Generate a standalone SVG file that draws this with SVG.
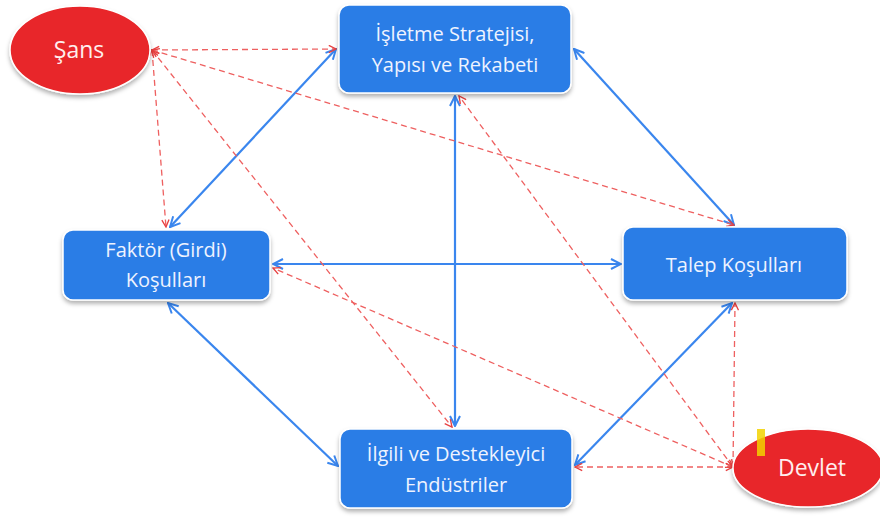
<svg xmlns="http://www.w3.org/2000/svg" width="880" height="518" viewBox="0 0 880 518">
<defs>
<style>
.box{fill:#2a7de6;stroke:#ffffff;stroke-width:1.5}
.oval{fill:#e8282a;stroke:#ffffff;stroke-width:1.5}
.lbl{font-family:"Open Sans","Liberation Sans",sans-serif;font-size:20px;fill:#eef3ff;text-anchor:middle}
.olbl{font-family:"Open Sans","Liberation Sans",sans-serif;font-size:23px;fill:#ffeeee;text-anchor:middle}
.blue{stroke:#3a86ee;stroke-width:2.2;fill:none;marker-start:url(#ab);marker-end:url(#ab)}
.red{stroke:#ee6060;stroke-width:1.3;stroke-dasharray:6 4;fill:none;marker-start:url(#ar);marker-end:url(#ar)}
</style>
<filter id="sh" x="-10%" y="-10%" width="120%" height="130%">
<feDropShadow dx="0" dy="3" stdDeviation="2" flood-color="#000" flood-opacity="0.3"/>
</filter>
<marker id="ab" viewBox="0 0 12 12" refX="11" refY="6" markerWidth="12" markerHeight="12" markerUnits="userSpaceOnUse" orient="auto-start-reverse">
<path d="M1 1 L11 6 L1 11" fill="none" stroke="#3a86ee" stroke-width="2"/>
</marker>
<marker id="ar" viewBox="0 0 10 10" refX="9" refY="5" markerWidth="9" markerHeight="9" markerUnits="userSpaceOnUse" orient="auto-start-reverse">
<path d="M1 1 L9 5 L1 9" fill="none" stroke="#e84040" stroke-width="1.5"/>
</marker>
</defs>
<rect width="880" height="518" fill="#ffffff"/>
<g id="connectors">
<line class="blue" x1="170" y1="227" x2="336" y2="49"/>
<line class="blue" x1="574" y1="49" x2="734" y2="225"/>
<line class="blue" x1="273" y1="264" x2="621" y2="264"/>
<line class="blue" x1="455" y1="96" x2="455" y2="426"/>
<line class="blue" x1="168" y1="303" x2="338" y2="466"/>
<line class="blue" x1="732" y1="303" x2="575" y2="465"/>
<line class="red" x1="152" y1="50" x2="336" y2="49"/>
<line class="red" x1="152" y1="50" x2="166" y2="227"/>
<line class="red" x1="152" y1="50" x2="452" y2="427"/>
<line class="red" x1="152" y1="50" x2="734" y2="225"/>
<line class="red" x1="733" y1="467" x2="575" y2="467"/>
<line class="red" x1="733" y1="467" x2="735" y2="303"/>
<line class="red" x1="733" y1="467" x2="459" y2="96"/>
<line class="red" x1="733" y1="467" x2="273" y2="268"/>
</g>
<g id="sans">
<ellipse class="oval" cx="80" cy="50" rx="70" ry="44" filter="url(#sh)"/>
<text class="olbl" x="79" y="58">Şans</text>
</g>
<g id="isletme">
<rect class="box" x="339" y="5" width="232" height="88" rx="10" filter="url(#sh)"/>
<text class="lbl" x="455" y="41">İşletme Stratejisi,</text>
<text class="lbl" x="455" y="72">Yapısı ve Rekabeti</text>
</g>
<g id="faktor">
<rect class="box" x="63" y="230" width="207" height="70" rx="10" filter="url(#sh)"/>
<text class="lbl" x="166" y="257">Faktör (Girdi)</text>
<text class="lbl" x="166" y="287">Koşulları</text>
</g>
<g id="talep">
<rect class="box" x="623" y="227" width="224" height="73" rx="10" filter="url(#sh)"/>
<text class="lbl" x="734" y="272">Talep Koşulları</text>
</g>
<g id="ilgili">
<rect class="box" x="340" y="429" width="232" height="79" rx="10" filter="url(#sh)"/>
<text class="lbl" x="456" y="461">İlgili ve Destekleyici</text>
<text class="lbl" x="456" y="492">Endüstriler</text>
</g>
<g id="devlet">
<ellipse class="oval" cx="808" cy="468" rx="75" ry="39" filter="url(#sh)"/>
<text class="olbl" x="812" y="476">Devlet</text>
</g>
<rect x="757" y="429" width="8" height="27" fill="#f2d200" opacity="0.85"/>
</svg>
